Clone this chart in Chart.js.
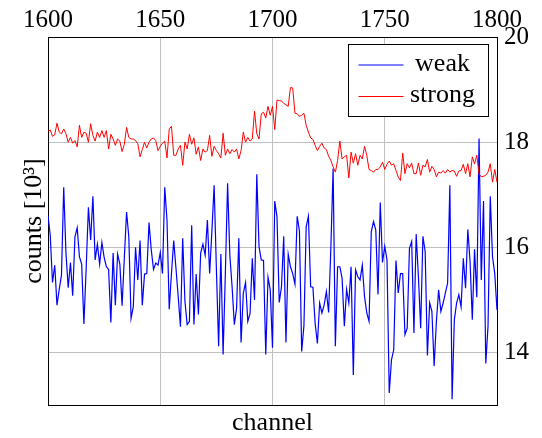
<!DOCTYPE html>
<html>
<head>
<meta charset="utf-8">
<script src="https://cdn.jsdelivr.net/npm/chart.js@4/dist/chart.umd.min.js"></script>
<style>
html, body { margin: 0; padding: 0; background: #ffffff; }
canvas { display: block; }
</style>
</head>
<body>
<canvas id="chart" width="542" height="438"></canvas>
<script>
// ---- data ----
const channelStart = 1600;
const xTicks = [1600, 1650, 1700, 1750, 1800];
const yTicks = [14, 16, 18, 20];
const seriesLabels = ['weak', 'strong'];
const xTitle = 'channel';
const yTitle = 'counts [10³]';

const weak = [
  16.6, 16.23, 15.33, 15.66, 14.9, 15.2, 15.47, 17.14, 15.89, 15.23,
  15.71, 15.08, 16.2, 16.37, 15.82, 15.68, 14.54, 15.6, 16.76, 16.14,
  16.97, 15.76, 16.06, 15.68, 16.09, 15.81, 15.63, 15.58, 14.57, 15.89,
  14.9, 15.87, 15.68, 14.89, 15.8, 16.67, 16.2, 14.65, 14.87, 16.0,
  15.38, 16.13, 14.9, 15.49, 15.5, 16.47, 15.95, 15.58, 15.7, 15.66,
  15.9, 15.5, 17.14, 16.52, 14.82, 15.5, 16.13, 15.6, 15.06, 14.49,
  16.17, 14.97, 14.53, 14.59, 16.42, 14.53, 15.49, 14.72,
  15.89, 16.06, 15.85, 16.52, 15.5, 16.3, 17.18, 15.6, 14.12, 15.87,
  13.96, 15.5, 17.22, 15.85, 15.25, 14.53, 14.84, 16.17, 14.19, 15.13,
  15.33, 14.59, 14.74, 15.79, 15.0, 17.39, 16.01, 15.76, 15.75, 13.96,
  15.43, 15.19, 14.09, 16.88, 16.58, 14.95, 15.25, 16.21, 14.19, 15.87,
  15.63, 15.5, 15.3, 16.59, 16.31, 14.02, 14.51, 16.39, 16.59, 15.25,
  15.24, 14.55, 14.17, 14.94, 14.75, 14.9, 15.16, 14.76, 16.0, 17.5,
  14.12, 15.63,
  15.63, 15.41, 14.5, 15.2, 14.94, 15.63, 13.57, 15.57, 15.44, 15.38,
  15.66, 15.06, 14.75, 14.59, 16.3, 16.49, 16.33, 15.1, 16.85, 15.71,
  16.02, 15.76, 13.23, 13.86, 14.05, 15.75, 15.13, 15.5, 15.5, 14.34,
  14.46, 15.98, 16.11, 14.37, 16.25, 15.44, 14.46, 16.21, 15.92, 13.94,
  14.94, 14.78, 13.74, 14.59, 15.19, 14.78, 14.94, 15.13, 15.32, 17.18,
  13.11, 14.62, 14.94, 15.1, 14.87, 15.79, 15.22, 16.34, 15.73, 14.62,
  15.96, 15.05, 18.07, 15.38, 16.88, 13.79, 14.5, 16.97, 15.82, 15.5,
  14.81
];

const strong = [
  18.21, 18.23, 18.11, 18.14, 18.36, 18.19, 18.16, 18.25, 18.16, 18.0,
  18.09, 17.98, 18.03, 17.91, 18.32, 18.09, 18.19, 18.17, 18.0, 18.35,
  18.13, 18.02, 18.19, 18.09, 18.22, 18.09, 18.22, 17.87, 18.15, 18.06,
  17.94, 18.06, 18.02, 17.82, 17.96, 18.28, 18.09, 18.06, 18.06, 18.03,
  17.97, 17.72, 17.86, 18.0, 17.89, 18.0, 18.06, 18.08, 18.03, 17.84,
  17.92, 17.98, 18.02, 17.7, 18.25, 18.3, 17.75, 17.75, 17.87, 17.94,
  17.56, 18.0, 17.87, 18.15, 17.96, 18.08, 17.77, 17.91,
  17.65, 17.87, 17.81, 17.84, 18.13, 17.73, 17.92, 17.84, 17.78, 17.7,
  18.17, 17.75, 17.87, 17.78, 17.86, 17.81, 17.87, 17.68, 17.84, 18.19,
  18.0, 18.09, 18.02, 18.06, 18.59, 18.16, 18.06, 18.54, 18.57, 18.46,
  18.68, 18.51, 18.68, 18.24, 18.8, 18.79, 18.78, 18.74, 18.71, 18.68,
  19.04, 19.03, 18.55, 18.54, 18.49, 18.51, 18.55, 18.32, 18.19, 18.08,
  18.05, 17.94, 17.84, 17.92, 17.98, 17.89, 17.86, 17.73, 17.65, 17.53,
  17.43, 17.65,
  18.02, 17.68, 17.72, 17.75, 17.32, 17.81, 17.6, 17.78, 17.56, 17.75,
  17.68, 17.92, 17.75, 17.48, 17.46, 17.43, 17.48, 17.48, 17.53, 17.62,
  17.48, 17.58, 17.64, 17.56, 17.59, 17.46, 17.34, 17.27, 17.79, 17.4,
  17.59, 17.51, 17.6, 17.4, 17.4, 17.6, 17.37, 17.56, 17.53, 17.67,
  17.43, 17.54, 17.48, 17.34, 17.43, 17.41, 17.46, 17.41, 17.48, 17.43,
  17.46, 17.45, 17.35, 17.45, 17.46, 17.58, 17.4, 17.59, 17.34, 17.72,
  17.59, 17.75, 17.39, 17.34, 17.35, 17.37, 17.43, 17.59, 17.24, 17.48,
  17.24
];

// ---- chart ----
const FONT = '"Liberation Serif", "DejaVu Serif", "Times New Roman", serif';
const GRID = '#c0c0c0';
const channels = weak.map((_, i) => channelStart + i);
const toPoints = (vals) => vals.map((v, i) => ({ x: channels[i], y: v }));

const boxLegend = {
  id: 'boxLegend',
  afterDraw(chart) {
    const ctx = chart.ctx;
    const a = chart.chartArea;
    const W = 140, H = 72;
    const L = Math.round(a.right - 9 - W) + 0.5;
    const T = Math.round(a.top + 7) + 0.5;
    ctx.save();
    ctx.fillStyle = '#ffffff';
    ctx.fillRect(L, T, W, H);
    ctx.strokeStyle = '#000000';
    ctx.lineWidth = 1;
    ctx.strokeRect(L, T, W, H);
    chart.data.datasets.forEach((ds, i) => {
      const y = T + 20.5 + i * 31.5;
      ctx.strokeStyle = ds.borderColor;
      ctx.lineWidth = 1;
      ctx.beginPath();
      ctx.moveTo(L + 10, y);
      ctx.lineTo(L + 55, y);
      ctx.stroke();
      ctx.fillStyle = '#000000';
      ctx.font = '26px ' + FONT;
      ctx.textAlign = 'center';
      ctx.textBaseline = 'middle';
      ctx.fillText(ds.label, L + 94, y - 1);
    });
    ctx.restore();
  }
};

new Chart(document.getElementById('chart'), {
  type: 'line',
  data: {
    datasets: [
      { label: seriesLabels[0], data: toPoints(weak), borderColor: '#0000ff', borderWidth: 1.2,
        pointRadius: 0, tension: 0, fill: false, order: 2 },
      { label: seriesLabels[1], data: toPoints(strong), borderColor: '#ff0000', borderWidth: 1,
        pointRadius: 0, tension: 0, fill: false, order: 1 }
    ]
  },
  options: {
    responsive: false,
    animation: false,
    devicePixelRatio: 1,
    layout: { padding: 0 },
    plugins: { legend: { display: false }, tooltip: { enabled: false } },
    scales: {
      x: {
        type: 'linear', position: 'top', min: 1600, max: 1800,
        afterBuildTicks: s => { s.ticks = xTicks.map(v => ({ value: v })); },
        afterFit: s => { s.height = 37; },
        grid: { color: GRID, lineWidth: 1, drawTicks: false },
        border: { color: '#000000', width: 1 },
        ticks: { font: { family: FONT, size: 25 }, color: '#000000', padding: 2,
                 maxRotation: 0, autoSkip: false, callback: v => String(v) }
      },
      x2: {
        type: 'linear', position: 'bottom', min: 1600, max: 1800,
        afterFit: s => { s.height = 33; },
        grid: { display: false, drawTicks: false },
        border: { color: '#000000', width: 1 },
        ticks: { display: false },
        title: { display: true, text: xTitle, color: '#000000',
                 font: { family: FONT, size: 26, lineHeight: 1 }, padding: { top: 0, bottom: 1.5 } }
      },
      y: {
        type: 'linear', position: 'right', min: 13, max: 20,
        afterBuildTicks: s => { s.ticks = yTicks.map(v => ({ value: v })); },
        afterFit: s => { s.width = 45; },
        grid: { color: GRID, lineWidth: 1, drawTicks: false },
        border: { color: '#000000', width: 1 },
        ticks: { font: { family: FONT, size: 25 }, color: '#000000', padding: 7,
                 callback: v => String(v) }
      },
      y2: {
        type: 'linear', position: 'left', min: 13, max: 20,
        afterFit: s => { s.width = 48; },
        grid: { display: false, drawTicks: false },
        border: { color: '#000000', width: 1 },
        ticks: { display: false },
        title: { display: true, text: yTitle, color: '#000000',
                 font: { family: FONT, size: 26, lineHeight: 1 }, padding: { top: 21, bottom: 0 } }
      }
    }
  },
  plugins: [boxLegend]
});
</script>
</body>
</html>
